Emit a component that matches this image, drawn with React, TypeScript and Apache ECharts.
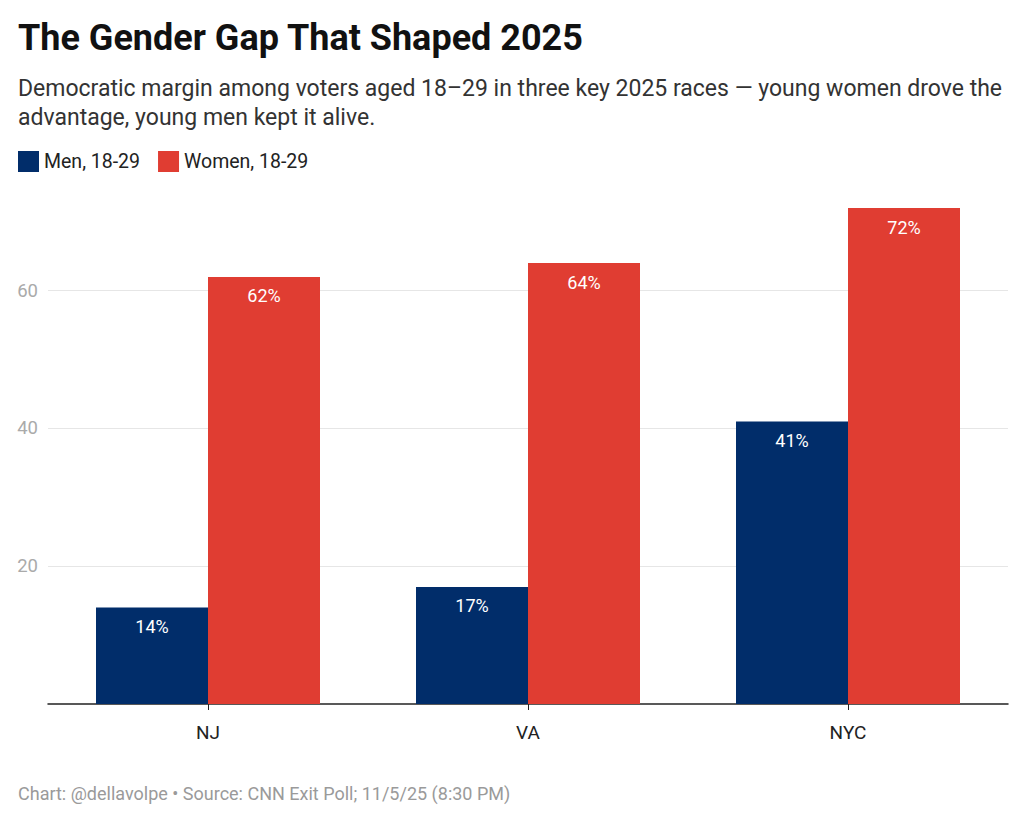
import React, { useEffect, useRef } from "react";
import * as echarts from "echarts";

const categories = ["NJ", "VA", "NYC"];
const menValues = [14, 17, 41];
const womenValues = [62, 64, 72];
const seriesNames = ["Men, 18-29", "Women, 18-29"];
const titleText = "The Gender Gap That Shaped 2025";
const subtitleText =
  "Democratic margin among voters aged 18\u201329 in three key 2025 races \u2014 young women drove the\nadvantage, young men kept it alive.";
const footerText = "Chart: @dellavolpe \u2022 Source: CNN Exit Poll; 11/5/25 (8:30 PM)";

const FONT = "Roboto";

export default function App() {
  const ref = useRef<HTMLDivElement>(null);
  useEffect(() => {
    if (!ref.current) return;
    const chart = echarts.init(ref.current, undefined, { renderer: "svg" });
    const label = {
      show: true,
      position: "insideTop",
      distance: 10,
      color: "#ffffff",
      fontSize: 18,
      fontFamily: FONT,
      formatter: (p: any) => p.value + "%",
    };
    chart.setOption({
      animation: false,
      backgroundColor: "#ffffff",
      textStyle: { fontFamily: FONT },
      title: [
        {
          text: titleText,
          left: 13,
          top: 15,
          textStyle: { fontSize: 36, fontWeight: "bold", color: "#111111", fontFamily: FONT },
        },
        {
          text: subtitleText,
          left: 13,
          top: 69,
          textStyle: { fontSize: 23, fontWeight: "normal", color: "#333333", lineHeight: 29, fontFamily: FONT },
        },
        {
          text: footerText,
          left: 13,
          top: 779,
          textStyle: { fontSize: 18, fontWeight: "normal", color: "#9a9a9a", fontFamily: FONT },
        },
      ],
      legend: {
        left: 13,
        top: 146,
        icon: "rect",
        itemWidth: 21,
        itemHeight: 21,
        itemGap: 18,
        textStyle: { fontSize: 19.5, color: "#222222", fontFamily: FONT, padding: [0, 0, 0, 0] },
        data: seriesNames,
      },
      grid: { left: 48, right: 16, top: 208, bottom: 117, containLabel: false },
      xAxis: {
        type: "category",
        data: categories,
        axisLine: { show: true, lineStyle: { color: "#222222", width: 1.5 } },
        axisTick: { show: true, alignWithLabel: true, length: 6, lineStyle: { color: "#222222" } },
        axisLabel: { color: "#222222", fontSize: 19, margin: 19, fontFamily: FONT },
      },
      yAxis: {
        type: "value",
        min: 0,
        max: 72,
        interval: 20,
        axisLine: { show: false },
        axisTick: { show: false },
        axisLabel: {
          color: "#aaaaaa",
          fontSize: 18.5,
          margin: 10,
          showMinLabel: false,
          showMaxLabel: false,
          fontFamily: FONT,
        },
        splitLine: { show: true, showMinLine: false, showMaxLine: false, lineStyle: { color: "#e6e6e6", width: 1 } },
      },
      series: [
        {
          name: seriesNames[0],
          type: "bar",
          data: menValues,
          barGap: "0%",
          barCategoryGap: "30%",
          itemStyle: { color: "#012d6a" },
          label,
        },
        {
          name: seriesNames[1],
          type: "bar",
          data: womenValues,
          barGap: "0%",
          barCategoryGap: "30%",
          itemStyle: { color: "#e03d32" },
          label,
        },
      ],
    });
    return () => chart.dispose();
  }, []);
  return (
    <div
      ref={ref}
      style={{ position: "fixed", left: 0, top: 0, width: 1024, height: 821, background: "#fff" }}
    />
  );
}
